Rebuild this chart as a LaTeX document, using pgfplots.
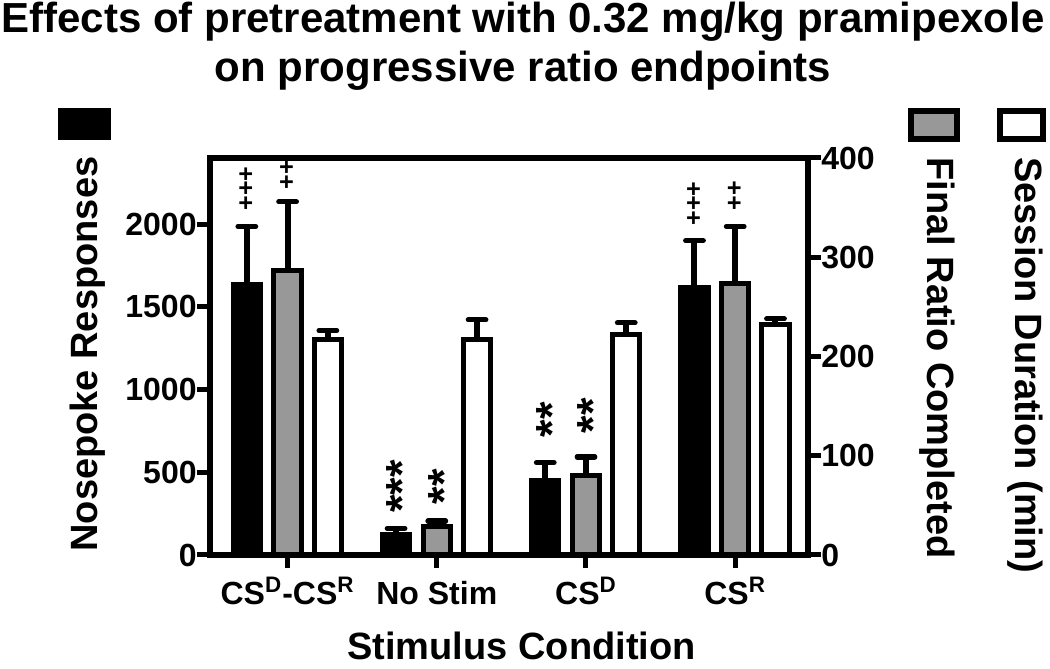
\documentclass[border=0pt]{standalone}
\usepackage{fontspec}
\setmainfont{Liberation Sans}
\usepackage{graphicx}
\usepackage{pgfplots}
\pgfplotsset{compat=1.18}
\usepackage{pgfplotstable}

\definecolor{bargrey}{RGB}{152,152,152}

% Nosepoke responses (left axis)
\pgfplotstableread{
x y e
-0.273 1633 353
0.727 125 36
1.727 451 108
2.727 1618 282
}\blackdata
% Final ratio completed (right axis)
\pgfplotstableread{
x y e
0 286.2 69.6
1 28.3 5.9
2 79.6 19.2
3 273.9 57.1
}\greydata
% Session duration (right axis)
\pgfplotstableread{
x y e
0.27 217.6 8.5
1.27 216.9 20
2.27 221.9 12
3.27 232.7 5.2
}\whitedata

\begin{document}
\begin{tikzpicture}[font=\bfseries]
\path[use as bounding box] (0,0) rectangle (525pt,334.5pt);

\pgfplotsset{
 common/.style={
  at={(105pt,57pt)}, anchor=south west,
  scale only axis, width=299pt, height=198.5pt,
  xmin=-0.52, xmax=3.488,
  clip=false,
  tick align=outside,
  major tick length=6.5pt,
  tick style={line width=2.5pt, black},
  axis line style={line width=2.7pt},
  /pgf/number format/assume math mode=true,
  /pgf/number format/1000 sep={},
  tick label style={font=\bfseries\fontsize{16}{16}\selectfont},
 },
 mybar/.style={ybar, bar shift=0pt, bar width=0.183, draw=black, line width=2.5pt,
   error bars/y dir=plus, error bars/y explicit,
   error bars/error bar style={line width=3pt, black},
   error bars/error mark options={rotate=90, line width=2.6pt, mark size=4.4pt, black, line cap=round}},
}

\begin{axis}[common,
  ymin=0, ymax=2400, ytick={0,500,...,2000},
  xtick={0,1,2,3},
  xticklabels={CS\textsuperscript{D}-CS\textsuperscript{R}, No Stim, CS\textsuperscript{D}, CS\textsuperscript{R}},
  ytick pos=left, xtick pos=bottom,
  yticklabel style={inner sep=0pt, anchor=east},
  xticklabel style={inner sep=0pt, anchor=base, yshift=-18.5pt},
]
\addplot[mybar, fill=black] table[x=x, y=y, y error=e]{\blackdata};

\node[rotate=90, anchor=center, inner sep=0, font=\bfseries\fontsize{12.5}{12.5}\selectfont] at (axis cs:-0.273,2216) {+++};
\node[rotate=90, anchor=center, inner sep=0, font=\bfseries\fontsize{12.5}{12.5}\selectfont] at (axis cs:0,2298) {++};
\node[rotate=90, anchor=center, inner sep=0, font=\bfseries\fontsize{12.5}{12.5}\selectfont] at (axis cs:2.727,2126) {+++};
\node[rotate=90, anchor=center, inner sep=0, font=\bfseries\fontsize{12.5}{12.5}\selectfont] at (axis cs:3,2171) {++};
\node[rotate=90, anchor=base, inner sep=0, font=\bfseries\fontsize{22.5}{22.5}\selectfont] at (axis cs:0.87,413) {***};
\node[rotate=90, anchor=base, inner sep=0, font=\bfseries\fontsize{22.5}{22.5}\selectfont] at (axis cs:1.15,413) {**};
\node[rotate=90, anchor=base, inner sep=0, font=\bfseries\fontsize{22.5}{22.5}\selectfont] at (axis cs:1.875,817) {**};
\node[rotate=90, anchor=base, inner sep=0, font=\bfseries\fontsize{22.5}{22.5}\selectfont] at (axis cs:2.15,841) {**};
\end{axis}

\begin{axis}[common,
  ymin=0, ymax=400, ytick={0,100,...,400},
  axis y line*=right, axis x line=none,
  yticklabel style={inner sep=0pt, anchor=west},
]
\addplot[mybar, fill=bargrey] table[x=x, y=y, y error=e]{\greydata};
\addplot[mybar, fill=white] table[x=x, y=y, y error=e]{\whitedata};
\end{axis}

% title
\node[anchor=base, font=\bfseries\fontsize{21}{21}\selectfont] at (261.5pt,318pt) {Effects of pretreatment with 0.32 mg/kg pramipexole};
\node[anchor=base, font=\bfseries\fontsize{21}{21}\selectfont] at (261.5pt,293.5pt) {on progressive ratio endpoints};

% axis labels
\node[rotate=90, anchor=base west, inner sep=0, font=\bfseries\fontsize{19}{19}\selectfont] at (48.5pt,58.5pt) {Nosepoke Responses};
\node[rotate=-90, anchor=base west, inner sep=0, font=\bfseries\fontsize{19}{19}\selectfont] at (463.5pt,256pt) {Final Ratio Completed};
\node[rotate=-90, anchor=base west, inner sep=0, font=\bfseries\fontsize{19}{19}\selectfont] at (507.5pt,256pt) {Session Duration (min)};
\node[anchor=base, font=\bfseries\fontsize{19}{19}\selectfont] at (260.75pt,4.5pt) {Stimulus Condition};

% legend keys
\fill[black] (29pt,264.5pt) rectangle (55.5pt,280.5pt);
\filldraw[fill=bargrey, draw=black, line width=3pt] (455.5pt,265pt) rectangle (478.5pt,279pt);
\filldraw[fill=white, draw=black, line width=3pt] (500pt,265pt) rectangle (521.5pt,279pt);
\end{tikzpicture}
\end{document}
